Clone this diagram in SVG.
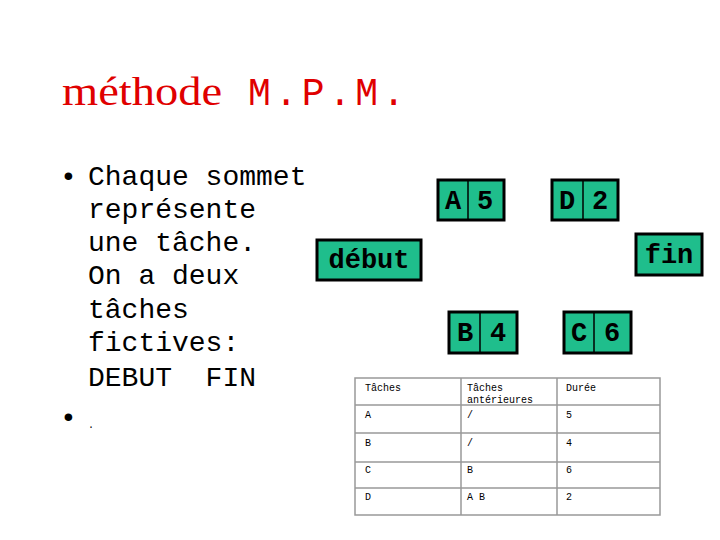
<svg xmlns="http://www.w3.org/2000/svg" width="720" height="540" viewBox="0 0 720 540">
<style>
.n{fill:#1fbe8c;stroke:#000;stroke-width:3}
.d{stroke:#000;stroke-width:1.5}
.nt{font-family:"Liberation Mono",monospace;font-weight:bold;font-size:27px;fill:#000}
.b{font-family:"Liberation Mono",monospace;font-size:28px;fill:#000;white-space:pre}
.t{font-family:"Liberation Mono",monospace;font-size:10px;fill:#000}
.g{stroke:#999;stroke-width:1.5;fill:none}
</style>
<rect width="720" height="540" fill="#fff"/>
<text x="62" y="105" font-family="Liberation Serif,serif" font-size="40" fill="#e00000" textLength="160" lengthAdjust="spacingAndGlyphs">méthode</text>
<text x="248" y="105" font-family="Liberation Mono,monospace" font-size="38" fill="#e00000" textLength="157" lengthAdjust="spacing">M.P.M.</text>
<text x="60" y="185" class="b">•</text>
<text class="b" xml:space="preserve"><tspan x="88" y="185">Chaque sommet</tspan><tspan x="88" y="218">représente</tspan><tspan x="88" y="251">une tâche.</tspan><tspan x="88" y="284">On a deux</tspan><tspan x="88" y="318">tâches</tspan><tspan x="88" y="351">fictives:</tspan><tspan x="88" y="386">DEBUT  FIN</tspan></text>
<text x="60" y="426" class="b">•</text>
<text x="88" y="428" class="t">.</text>
<g id="debut"><rect class="n" x="317" y="240" width="104" height="40"/><text class="nt" x="369" y="268" text-anchor="middle">début</text></g>
<g id="A"><rect class="n" x="438" y="180" width="66" height="40"/><line class="d" x1="468" y1="180" x2="468" y2="220"/><text class="nt" x="453" y="209" text-anchor="middle">A</text><text class="nt" x="485" y="209" text-anchor="middle">5</text></g>
<g id="D"><rect class="n" x="552" y="180" width="66" height="40"/><line class="d" x1="583" y1="180" x2="583" y2="220"/><text class="nt" x="567" y="209" text-anchor="middle">D</text><text class="nt" x="600" y="209" text-anchor="middle">2</text></g>
<g id="B"><rect class="n" x="449" y="312" width="68" height="41"/><line class="d" x1="480" y1="312" x2="480" y2="353"/><text class="nt" x="465" y="341" text-anchor="middle">B</text><text class="nt" x="498" y="341" text-anchor="middle">4</text></g>
<g id="C"><rect class="n" x="564" y="312" width="67" height="41"/><line class="d" x1="594" y1="312" x2="594" y2="353"/><text class="nt" x="579" y="341" text-anchor="middle">C</text><text class="nt" x="612" y="341" text-anchor="middle">6</text></g>
<g id="fin"><rect class="n" x="636" y="234" width="66" height="41"/><text class="nt" x="669" y="263" text-anchor="middle">fin</text></g>
<g id="connectors"></g>
<g id="table">
<rect class="g" x="355" y="378" width="305" height="137"/>
<line class="g" x1="461" y1="378" x2="461" y2="515"/><line class="g" x1="557" y1="378" x2="557" y2="515"/>
<line class="g" x1="355" y1="405" x2="660" y2="405"/><line class="g" x1="355" y1="433" x2="660" y2="433"/>
<line class="g" x1="355" y1="462" x2="660" y2="462"/><line class="g" x1="355" y1="488" x2="660" y2="488"/>
<text class="t" x="365" y="391">Tâches</text><text class="t" x="467" y="391">Tâches</text><text class="t" x="467" y="403">antérieures</text><text class="t" x="566" y="391">Durée</text>
<text class="t" x="365" y="418">A</text><text class="t" x="467" y="418">/</text><text class="t" x="566" y="418">5</text>
<text class="t" x="365" y="446">B</text><text class="t" x="467" y="446">/</text><text class="t" x="566" y="446">4</text>
<text class="t" x="365" y="473">C</text><text class="t" x="467" y="473">B</text><text class="t" x="566" y="473">6</text>
<text class="t" x="365" y="500">D</text><text class="t" x="467" y="500">A B</text><text class="t" x="566" y="500">2</text>
</g>
</svg>
